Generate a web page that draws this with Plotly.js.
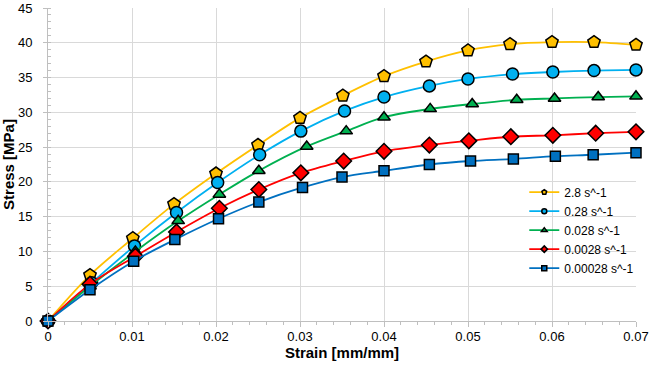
<!DOCTYPE html>
<html>
<head>
<meta charset="utf-8">
<script src="https://cdn.plot.ly/plotly-3.0.1.min.js"></script>
<style>
  html, body { margin: 0; padding: 0; background: #fff; }
  #chart { width: 650px; height: 375px; }
</style>
</head>
<body>
<div id="chart"></div>
<script>
// Stress-strain curves at five strain rates
const seriesNames = ['2.8 s^-1', '0.28 s^-1', '0.028 s^-1', '0.0028 s^-1', '0.00028 s^-1'];

const strain_2_8 = [0, 0.005, 0.0101, 0.015, 0.020, 0.025, 0.030, 0.0351, 0.040, 0.045, 0.050, 0.055, 0.060, 0.065, 0.070];
const stress_2_8 = [0, 6.6, 11.9, 16.8, 21.2, 25.3, 29.2, 32.4, 35.2, 37.3, 38.9, 39.8, 40.1, 40.1, 39.7];

const strain_0_28 = [0, 0.0052, 0.0103, 0.0153, 0.0202, 0.0252, 0.0301, 0.0353, 0.040, 0.0454, 0.050, 0.0553, 0.0601, 0.065, 0.070];
const stress_0_28 = [0, 5.5, 10.8, 15.6, 19.9, 23.9, 27.3, 30.2, 32.2, 33.8, 34.8, 35.5, 35.8, 36.0, 36.1];

const strain_0_028 = [0, 0.005, 0.0104, 0.0155, 0.0204, 0.0251, 0.0308, 0.0355, 0.040, 0.0455, 0.0505, 0.0558, 0.0603, 0.0655, 0.070];
const stress_0_028 = [0, 5.0, 10.0, 14.4, 18.2, 21.6, 25.1, 27.3, 29.3, 30.5, 31.2, 31.8, 32.0, 32.2, 32.3];

const strain_0_0028 = [0, 0.005, 0.0104, 0.0153, 0.0204, 0.0251, 0.0301, 0.0352, 0.040, 0.0454, 0.0501, 0.0551, 0.0601, 0.0652, 0.070];
const stress_0_0028 = [0, 5.3, 9.3, 12.8, 16.2, 18.9, 21.3, 23.0, 24.4, 25.3, 25.9, 26.5, 26.7, 27.0, 27.2];

const strain_0_00028 = [0, 0.005, 0.0102, 0.0151, 0.0203, 0.0251, 0.0303, 0.035, 0.040, 0.0454, 0.0503, 0.0554, 0.0604, 0.0649, 0.070];
const stress_0_00028 = [0, 4.5, 8.6, 11.7, 14.7, 17.1, 19.2, 20.7, 21.6, 22.5, 23.0, 23.3, 23.7, 23.9, 24.2];

const xTickVals = [0, 0.01, 0.02, 0.03, 0.04, 0.05, 0.06, 0.07];
const xTickText = ['0', '0.01', '0.02', '0.03', '0.04', '0.05', '0.06', '0.07'];

const strains = [strain_2_8, strain_0_28, strain_0_028, strain_0_0028, strain_0_00028];
const stresses = [stress_2_8, stress_0_28, stress_0_028, stress_0_0028, stress_0_00028];

const colors = ['#FFC000', '#00B0F0', '#00B050', '#FF0000', '#0070C0'];
const symbols = ['pentagon', 'circle', 'triangle-up', 'diamond', 'square'];
const sizes = [13, 12, 11, 12, 10];

const font = 'Liberation Sans, Arial, sans-serif';

const traces = [];
// curves with markers
seriesNames.forEach((name, i) => {
  traces.push({
    type: 'scatter', mode: 'lines+markers', name: name,
    x: strains[i], y: stresses[i],
    legendgroup: 'g' + i, showlegend: false,
    line: { color: colors[i], width: 1.8, shape: 'spline', smoothing: 0.9 },
    marker: { symbol: symbols[i], size: sizes[i], color: colors[i],
              line: { color: '#000', width: 1.5 } },
    cliponaxis: false
  });
});
// compact legend entries
seriesNames.forEach((name, i) => {
  traces.push({
    type: 'scatter', mode: 'lines+markers', name: name,
    x: [null], y: [null],
    legendgroup: 'g' + i, showlegend: true,
    line: { color: colors[i], width: 1.8 },
    marker: { symbol: symbols[i], size: 5, color: colors[i],
              line: { color: '#000', width: 1.5 } }
  });
});

const layout = {
  width: 650, height: 375,
  margin: { l: 48, r: 14, t: 8, b: 54 },
  paper_bgcolor: '#fff', plot_bgcolor: '#fff',
  font: { family: font, color: '#000', size: 13 },
  showlegend: true,
  legend: {
    x: 0.81, y: 0.458, xanchor: 'left', yanchor: 'top',
    font: { family: font, size: 12, color: '#000' },
    itemwidth: 30, bgcolor: 'rgba(0,0,0,0)', tracegroupgap: 0
  },
  xaxis: {
    range: [0, 0.07],
    tickvals: xTickVals, ticktext: xTickText,
    showgrid: true, gridcolor: '#D9D9D9', gridwidth: 1,
    zeroline: false, showline: true, linecolor: '#BFBFBF', linewidth: 1,
    ticks: 'outside', ticklen: 5, tickcolor: '#BFBFBF',
    minor: { dtick: 0.002, ticks: 'outside', ticklen: 3, tickcolor: '#BFBFBF', showgrid: false },
    tickfont: { family: font, size: 13, color: '#000' },
    ticklabelstandoff: -2,
    title: { text: '<b>Strain [mm/mm]</b>', font: { family: font, size: 15, color: '#000' }, standoff: 3 },
    automargin: false
  },
  yaxis: {
    range: [0, 45], dtick: 5, tick0: 0,
    showgrid: true, gridcolor: '#D9D9D9', gridwidth: 1,
    zeroline: false, showline: true, linecolor: '#BFBFBF', linewidth: 1,
    ticks: 'outside', ticklen: 4, tickcolor: '#BFBFBF',
    minor: { dtick: 1, ticks: 'inside', ticklen: 3, tickcolor: '#BFBFBF', showgrid: false },
    tickfont: { family: font, size: 13, color: '#000' },
    ticklabelstandoff: 8,
    title: { text: '<b>Stress [MPa]</b>', font: { family: font, size: 15, color: '#000' }, standoff: 0 },
    automargin: false
  }
};

Plotly.newPlot('chart', traces, layout, { staticPlot: true, displayModeBar: false });
</script>
</body>
</html>
